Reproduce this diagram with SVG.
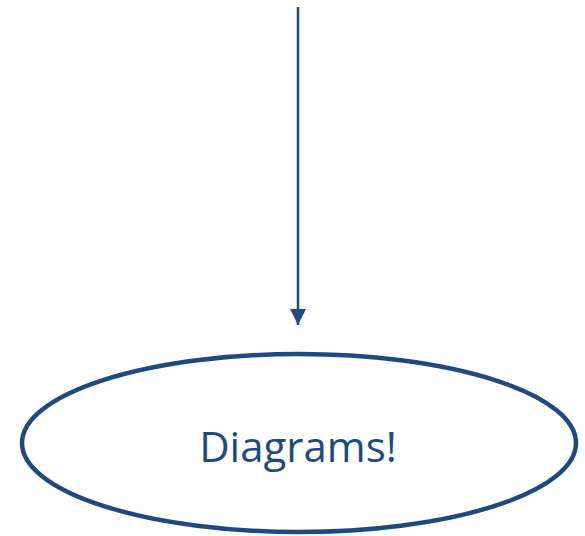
<svg xmlns="http://www.w3.org/2000/svg" width="585" height="536" viewBox="0 0 585 536">
<style>
.edge{stroke:#1f4a7e;stroke-width:2.5;fill:none}
.node{fill:#fff;stroke:#1f4a7e;stroke-width:4.5}
.lbl{font-family:"Open Sans","Noto Sans",sans-serif;font-size:42px;fill:#1f4a7e;text-anchor:middle}
</style>
<defs>
<marker id="arr" markerUnits="userSpaceOnUse" markerWidth="16" markerHeight="16" refX="16" refY="8" orient="auto" viewBox="0 0 16 16">
<path d="M0,0 L16,8 L0,16 Z" fill="#1f4a7e"/>
</marker>
</defs>
<g id="connectors">
<line class="edge" x1="298" y1="7" x2="298" y2="325" marker-end="url(#arr)"/>
</g>
<g id="node-diagrams">
<ellipse class="node" cx="299" cy="443" rx="277" ry="89"/>
<text class="lbl" x="298" y="462">Diagrams!</text>
</g>
</svg>
